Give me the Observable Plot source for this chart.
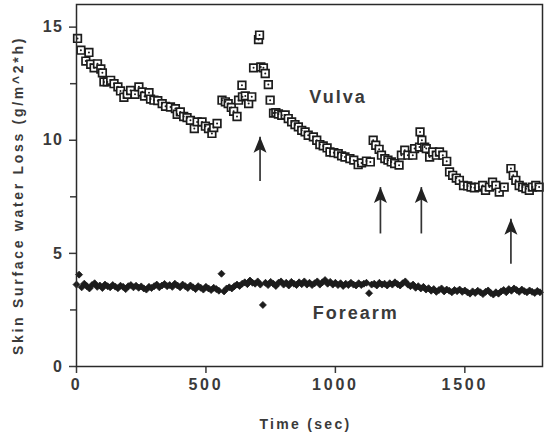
<!DOCTYPE html>
<html>
<head>
<meta charset="utf-8">
<script src="https://cdn.jsdelivr.net/npm/d3@7"></script>
<script src="https://cdn.jsdelivr.net/npm/@observablehq/plot@0.6"></script>
<style>
  html, body { margin: 0; padding: 0; background: #fff; }
  svg g[aria-label="x-axis tick label"] text { letter-spacing: 2.8px; }
  svg g[aria-label="y-axis tick label"] text { letter-spacing: 1.5px; }
</style>
</head>
<body>
<script>
// ---- data ----
const xTicks = [0, 500, 1000, 1500];
const yTicks = [0, 5, 10, 15];
const yMinorTicks = [2.5, 7.5, 12.5];

const vulvaTime = [4,17,36,48,55,68,81,94,100,106,119,132,145,160,170,183,196,209,226,241,254,263,280,286,299,314,331,344,363,382,389,401,414,427,440,455,466,485,498,510,523,530,543,
  562,575,586,598,607,620,626,639,641,652,665,677,684,703,707,712,722,729,741,748,761,770,780,793,806,818,831,844,857,870,883,895,915,928,940,953,968,979,994,1011,1024,1037,1056,1071,1088,1101,1120,1135,
  1146,1156,1169,1178,1191,1203,1216,1229,1246,1255,1268,1280,1299,1306,1325,1327,1334,1345,1351,1364,1376,1390,1402,1415,1430,1441,1453,1467,1479,1495,1511,1524,1537,1554,1569,1580,1595,1607,1620,1633,1652,
  1678,1687,1697,1710,1723,1736,1749,1761,1774,1787];
const vulvaValue = [14.5,13.98,13.5,13.88,13.36,13.2,13.38,13.15,12.98,12.58,12.58,12.65,12.5,12.36,12.18,11.9,12.03,12.2,12.03,12.36,12.14,11.95,12.1,11.82,11.77,11.75,11.62,11.5,11.47,11.4,11.15,11.25,11.05,11.0,10.88,10.52,10.81,10.81,10.62,10.52,10.3,10.56,10.74,
  11.77,11.7,11.62,11.45,11.28,11.05,11.77,12.43,11.92,11.96,11.62,11.92,13.2,14.45,14.65,13.24,13.2,12.95,12.46,11.77,11.2,11.22,11.16,11.1,11.12,10.96,10.81,10.69,10.59,10.44,10.37,10.22,10.15,10.0,9.81,9.75,9.66,9.48,9.45,9.41,9.31,9.26,9.19,9.12,8.92,9.0,9.08,9.04,
  10.0,9.78,9.6,9.34,9.19,9.12,9.04,8.97,8.9,9.34,9.56,9.34,9.34,9.63,9.7,10.37,10.0,9.7,9.63,9.26,9.48,9.34,9.48,9.34,9.07,8.6,8.45,8.33,8.23,8.0,7.98,7.93,7.9,7.93,8.0,7.79,7.93,8.15,8.0,7.71,7.93,
  8.75,8.45,8.23,8.0,7.93,7.86,7.79,7.93,8.0,7.93];

const forearmTime = [0,10,20,30,40,50,60,70,80,90,100,110,120,130,140,150,160,170,180,190,200,210,220,230,240,250,260,270,280,290,
  300,310,320,330,340,350,360,370,380,390,400,410,420,430,440,450,460,470,480,490,500,510,520,530,540,550,560,570,580,590,
  600,610,620,630,640,650,660,670,680,690,700,710,720,730,740,750,760,770,780,790,800,810,820,830,840,850,860,870,880,890,
  900,910,920,930,940,950,960,970,980,990,1000,1010,1020,1030,1040,1050,1060,1070,1080,1090,1100,1110,1120,1130,1140,1150,1160,1170,1180,1190,
  1200,1210,1220,1230,1240,1250,1260,1270,1280,1290,1300,1310,1320,1330,1340,1350,1360,1370,1380,1390,1400,1410,1420,1430,1440,1450,1460,1470,1480,1490,
  1500,1510,1520,1530,1540,1550,1560,1570,1580,1590,1600,1610,1620,1630,1640,1650,1660,1670,1680,1690,1700,1710,1720,1730,1740,1750,1760,1770,1780,1790];
const forearmValue = [3.62,4.06,3.50,3.66,3.55,3.45,3.60,3.68,3.52,3.58,
  3.47,3.62,3.55,3.50,3.60,3.53,3.46,3.57,3.52,3.42,
  3.55,3.60,3.50,3.57,3.48,3.54,3.45,3.40,3.52,3.47,
  3.55,3.62,3.50,3.58,3.65,3.55,3.60,3.52,3.66,3.58,
  3.50,3.62,3.55,3.47,3.58,3.50,3.42,3.55,3.48,3.40,
  3.52,3.45,3.38,3.48,3.42,3.35,4.10,3.32,3.45,3.50,
  3.45,3.55,3.62,3.56,3.66,3.72,3.64,3.80,3.70,3.66,
  3.76,3.62,2.72,3.70,3.60,3.74,3.66,3.56,3.70,3.76,
  3.62,3.70,3.58,3.74,3.66,3.60,3.72,3.64,3.76,3.62,
  3.70,3.60,3.68,3.76,3.62,3.72,3.82,3.66,3.74,3.62,
  3.70,3.60,3.68,3.56,3.66,3.60,3.70,3.62,3.58,3.68,
  3.60,3.66,3.70,3.24,3.62,3.66,3.58,3.70,3.62,3.66,
  3.58,3.68,3.62,3.72,3.64,3.58,3.68,3.76,3.62,3.55,
  3.62,3.48,3.55,3.45,3.52,3.40,3.46,3.35,3.42,3.30,
  3.38,3.45,3.32,3.40,3.35,3.28,3.38,3.33,3.40,3.30,
  3.36,3.28,3.22,3.32,3.25,3.35,3.28,3.20,3.30,3.36,
  3.25,3.18,3.28,3.22,3.32,3.38,3.28,3.42,3.35,3.45,
  3.38,3.30,3.40,3.33,3.28,3.36,3.30,3.25,3.34,3.28];

const arrowTime = [709, 1174, 1332, 1678];
const arrowTip = [10.15, 7.93, 7.93, 6.53];
const arrowBase = [8.2, 5.88, 5.88, 4.54];

const seriesLabels = ["Vulva", "Forearm"];
const labelTime = [1010, 1079];
const labelValue = [11.9, 2.35];

const xLabel = "Time (sec)";
const yLabel = "Skin Surface water Loss (g/m^2*h)";

// ---- tables built from the arrays ----
const vulva = vulvaTime.map((t, i) => ({t, v: vulvaValue[i]}));
const forearm = forearmTime.map((t, i) => ({t, v: forearmValue[i]}));
const arrows = arrowTime.map((t, i) => ({t, tip: arrowTip[i], base: arrowBase[i]}));
const labels = seriesLabels.map((s, i) => ({s, t: labelTime[i], v: labelValue[i]}));

// custom symbols
const squareSym = {draw(ctx, size) { const r = Math.sqrt(size / Math.PI); ctx.moveTo(-r, -r); ctx.lineTo(r, -r); ctx.lineTo(r, r); ctx.lineTo(-r, r); ctx.closePath(); }};
const diamondSym = {draw(ctx, size) { const r = Math.sqrt(size / Math.PI); ctx.moveTo(0, -r); ctx.lineTo(r, 0); ctx.lineTo(0, r); ctx.lineTo(-r, 0); ctx.closePath(); }};
const headSym = {draw(ctx, size) { ctx.moveTo(0, 0); ctx.lineTo(6.5, 16); ctx.lineTo(0, 12.5); ctx.lineTo(-6.5, 16); ctx.closePath(); }};

const ink = "#1c1c1c";
const textInk = "#3a3a3a";
const font = "'Liberation Sans', Arial, Helvetica, sans-serif";

const chart = Plot.plot({
  width: 544,
  height: 439,
  marginLeft: 76,
  marginRight: 2,
  marginTop: 4,
  marginBottom: 73,
  x: {domain: [0, 1800], label: null},
  y: {domain: [0, 16], label: null},
  style: {fontFamily: font, fontWeight: "bold", color: textInk, background: "#fff"},
  marks: [
    Plot.axisX({ticks: xTicks, tickFormat: d3.format("d"), tickSize: 7, tickPadding: 5, fontSize: 16, strokeWidth: 1.5, label: null}),
    Plot.axisY({ticks: yTicks, tickFormat: d3.format("d"), tickSize: 7, tickPadding: 6, fontSize: 16, strokeWidth: 1.5, label: null}),
    Plot.axisY({ticks: yMinorTicks, tickSize: 6, tickFormat: () => "", strokeWidth: 1.5, label: null}),
    Plot.dot(forearm, {x: "t", y: "v", symbol: diamondSym, r: 3.5, fill: ink, stroke: ink, strokeWidth: 0.8}),
    Plot.dot(vulva, {x: "t", y: "v", symbol: squareSym, r: 3.8, fill: "#fff", stroke: ink, strokeWidth: 1.7}),
    Plot.dot(vulva, {x: "t", y: "v", r: 1, fill: ink}),
    Plot.link(arrows, {x1: "t", x2: "t", y1: "base", y2: "tip", stroke: "#333", strokeWidth: 1.7}),
    Plot.dot(arrows, {x: "t", y: "tip", symbol: headSym, fill: "#222", stroke: "none"}),
    Plot.text(labels, {x: "t", y: "v", text: "s", fontSize: 18, fontWeight: "bold", fill: textInk, fontFamily: font, className: "series-label"}),
    Plot.text([xLabel], {frameAnchor: "bottom", textAnchor: "middle", dy: 62, dx: -4, fontSize: 14, fontWeight: "bold", fill: textInk, fontFamily: font}),
    Plot.text([yLabel], {frameAnchor: "left", textAnchor: "middle", rotate: -90, dx: -58, dy: 10, fontSize: 14, fontWeight: "bold", fill: textInk, fontFamily: font}),
    Plot.frame({stroke: "#2a2a2a", strokeWidth: 1.5})
  ]
});
document.body.appendChild(chart);
// letter spacing for the text labels
const textGroups = d3.select(chart).selectAll("g[aria-label='text']").nodes();
textGroups.forEach((g, i) => {
  const spacing = i === 0 ? "2px" : i === 1 ? "2.3px" : "2.7px";
  d3.select(g).selectAll("text").style("letter-spacing", spacing);
});
</script>
</body>
</html>
